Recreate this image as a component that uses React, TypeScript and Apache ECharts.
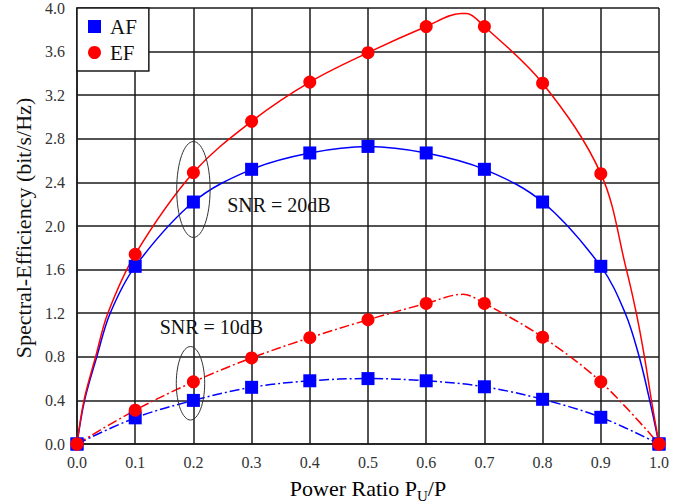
import React, { useEffect, useRef } from "react";
import * as echarts from "echarts";

// x positions of the markers (power ratio)
const powerRatio = [0, 0.1, 0.2, 0.3, 0.4, 0.5, 0.6, 0.7, 0.8, 0.9, 1.0];

// marker values
const afSnr20 = [0, 1.63, 2.22, 2.52, 2.67, 2.73, 2.67, 2.52, 2.22, 1.63, 0];
const efSnr20 = [0, 1.74, 2.49, 2.96, 3.32, 3.59, 3.83, 3.83, 3.31, 2.48, 0];
const afSnr10 = [0, 0.24, 0.4, 0.52, 0.58, 0.6, 0.58, 0.525, 0.41, 0.245, 0];
const efSnr10 = [0, 0.31, 0.57, 0.79, 0.975, 1.14, 1.29, 1.29, 0.98, 0.57, 0];

// extra points [x, y]
const afSnr20CurveExtra = [
  [0.013, 0.4], [0.034, 0.8], [0.057, 1.2],
  [0.942, 1.2], [0.966, 0.8], [0.984, 0.4],
];
const efSnr20CurveExtra = [
  [0.012, 0.4], [0.032, 0.8], [0.053, 1.2],
  [0.66, 3.95], [0.669, 3.95],
  [0.944, 1.6], [0.961, 1.2], [0.975, 0.8], [0.987, 0.4],
];
const afSnr10CurveExtra: number[][] = [];
const efSnr10CurveExtra = [[0.663, 1.373]];

// annotation texts [x, y] (left-middle anchor) and ellipses [cx, cy, rx, ry] in data units
const snrTexts = ["SNR = 20dB", "SNR = 10dB"];
const snrTextPos = [[0.258, 2.19], [0.142, 1.073]];
const ellipses = [[0.2, 2.335, 0.0287, 0.44], [0.195, 0.557, 0.0244, 0.337]];

const yTicks = { min: 0, max: 4, interval: 0.4 };
const xTicks = { min: 0, max: 1, interval: 0.1 };

const SERIF = '"Liberation Serif", "Times New Roman", serif';
const BLUE = "#0000ff";
const RED = "#ff0000";
const GRIDC = "#1a1a1a";

function curve(xs: number[], ys: number[], extra: number[][]) {
  const pts = xs.map((x, i) => [x, ys[i]]).concat(extra);
  pts.sort((a, b) => a[0] - b[0]);
  return pts;
}
function markers(xs: number[], ys: number[]) {
  return xs.map((x, i) => [x, ys[i]]);
}

export default function App() {
  const ref = useRef<HTMLDivElement>(null);
  useEffect(() => {
    if (!ref.current) return;
    const chart = echarts.init(ref.current, undefined, { renderer: "svg" });
    const dashDot = [10, 3, 2, 3];
    const lineSeries = (name: string, data: number[][], color: string, dashed: boolean) => ({
      name,
      type: "line",
      data,
      smooth: 0.35,
      showSymbol: false,
      symbol: "none",
      lineStyle: { color, width: 1.5, type: dashed ? dashDot : "solid" },
      z: 3,
    });
    const markerSeries = (name: string, data: number[][], color: string, symbol: string) => ({
      name,
      type: "scatter",
      data,
      symbol,
      symbolSize: 13,
      itemStyle: { color, opacity: 1 },
      z: symbol === "circle" ? 6 : 5,
    });
    chart.setOption({
      animation: false,
      backgroundColor: "#ffffff",
      grid: { left: 77, right: 29, top: 8, bottom: 59, containLabel: false },
      legend: {
        left: 77,
        top: 8,
        orient: "vertical",
        data: [
          { name: "AF", icon: "rect" },
          { name: "EF", icon: "circle" },
        ],
        itemWidth: 13,
        itemHeight: 13,
        itemGap: 5,
        padding: [8, 12, 8, 11],
        backgroundColor: "#ffffff",
        borderColor: GRIDC,
        borderWidth: 1.5,
        borderRadius: 0,
        selectedMode: false,
        textStyle: { fontFamily: SERIF, fontSize: 21, color: "#111", lineHeight: 20, padding: [0, 0, 0, 4] },
        z: 20,
      },
      xAxis: {
        type: "value",
        min: xTicks.min,
        max: xTicks.max,
        interval: xTicks.interval,
        axisLine: { show: true, lineStyle: { color: GRIDC, width: 1.5 } },
        axisTick: { show: false },
        splitLine: { show: true, lineStyle: { color: GRIDC, width: 1.5 } },
        axisLabel: {
          margin: 10,
          fontFamily: SERIF,
          fontSize: 16,
          color: "#333",
          formatter: (v: number) => v.toFixed(1),
        },
      },
      yAxis: {
        type: "value",
        min: yTicks.min,
        max: yTicks.max,
        interval: yTicks.interval,
        axisLine: { show: true, lineStyle: { color: GRIDC, width: 1.5 } },
        axisTick: { show: false },
        splitLine: { show: true, lineStyle: { color: GRIDC, width: 1.5 } },
        axisLabel: {
          margin: 12,
          fontFamily: SERIF,
          fontSize: 16,
          color: "#333",
          formatter: (v: number) => v.toFixed(1),
        },
      },
      graphic: [
        {
          type: "text",
          x: 23,
          y: 228,
          rotation: Math.PI / 2,
          style: {
            text: "Spectral-Efficiency (bit/s/Hz)",
            font: `22px ${SERIF}`,
            fill: "#111",
            align: "center",
            verticalAlign: "middle",
          },
        },
        {
          type: "text",
          x: 368,
          y: 488,
          style: {
            text: "{a|Power Ratio P}{b|U}{a|/P}",
            align: "center",
            verticalAlign: "middle",
            rich: {
              a: { fontFamily: SERIF, fontSize: 22, color: "#111", lineHeight: 30, verticalAlign: "middle" },
              b: { fontFamily: SERIF, fontSize: 15, color: "#111", lineHeight: 15, verticalAlign: "bottom" },
            },
          },
        },
      ],
      series: [
        lineSeries("AF 20dB curve", curve(powerRatio, afSnr20, afSnr20CurveExtra), BLUE, false),
        lineSeries("EF 20dB curve", curve(powerRatio, efSnr20, efSnr20CurveExtra), RED, false),
        lineSeries("AF 10dB curve", curve(powerRatio, afSnr10, afSnr10CurveExtra), BLUE, true),
        lineSeries("EF 10dB curve", curve(powerRatio, efSnr10, efSnr10CurveExtra), RED, true),
        {
          name: "ellipses",
          type: "custom",
          data: ellipses,
          encode: { x: 0, y: 1 },
          z: 4,
          silent: true,
          renderItem: (_p: any, api: any) => {
            const c = api.coord([api.value(0), api.value(1)]);
            const s = api.size([api.value(2), api.value(3)]);
            return {
              type: "ellipse",
              shape: { cx: c[0], cy: c[1], rx: s[0], ry: s[1] },
              style: { fill: "none", stroke: "#333", lineWidth: 1 },
            };
          },
        },
        {
          name: "snr labels",
          type: "custom",
          data: snrTextPos,
          encode: { x: 0, y: 1 },
          z: 4,
          silent: true,
          renderItem: (p: any, api: any) => {
            const c = api.coord([api.value(0), api.value(1)]);
            return {
              type: "text",
              x: c[0],
              y: c[1],
              style: {
                text: snrTexts[p.dataIndex],
                font: `20px ${SERIF}`,
                fill: "#111",
                align: "left",
                verticalAlign: "middle",
              },
            };
          },
        },
        markerSeries("AF", markers(powerRatio, afSnr20), BLUE, "rect"),
        markerSeries("AF", markers(powerRatio, afSnr10), BLUE, "rect"),
        markerSeries("EF", markers(powerRatio, efSnr20), RED, "circle"),
        markerSeries("EF", markers(powerRatio, efSnr10), RED, "circle"),
      ],
    });
    return () => chart.dispose();
  }, []);
  return (
    <div
      ref={ref}
      style={{ position: "absolute", left: 0, top: 0, width: 688, height: 503, background: "#fff" }}
    />
  );
}
